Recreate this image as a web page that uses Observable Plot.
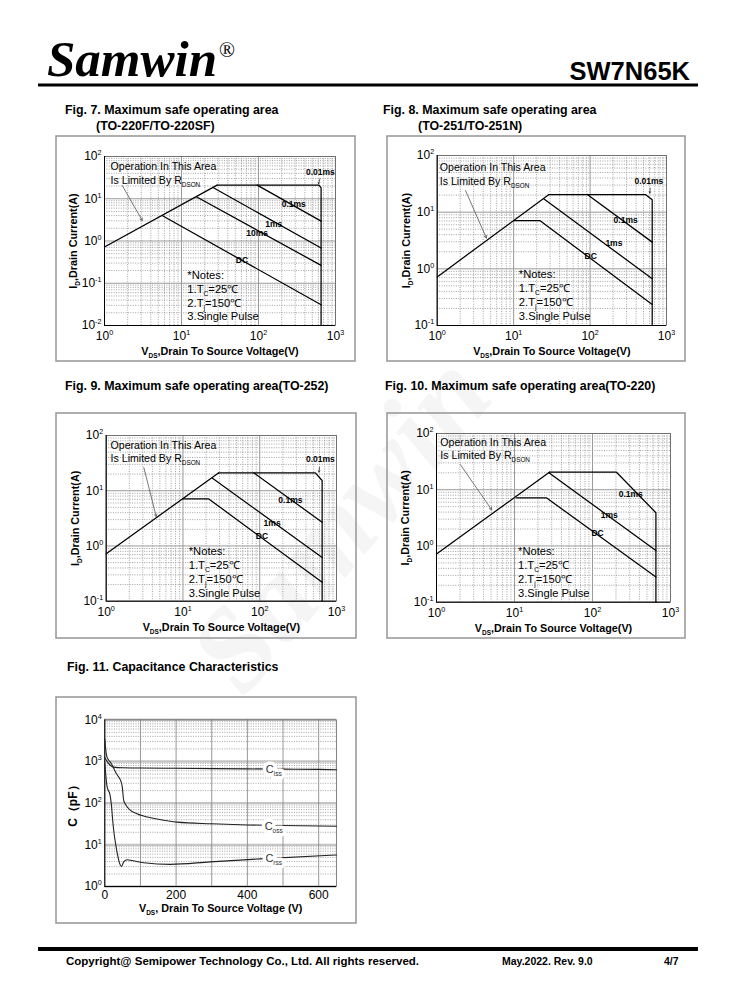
<!DOCTYPE html>
<html><head><meta charset="utf-8">
<script src="https://cdn.jsdelivr.net/npm/d3@7"></script>
<script src="https://cdn.jsdelivr.net/npm/@observablehq/plot@0.6"></script>
<style>
html,body{margin:0;padding:0;background:#fff;}
#page{position:relative;width:738px;height:1000px;overflow:hidden;font-family:"Liberation Sans",Arial,sans-serif;}
#page > svg, #page > .chart{position:absolute;}
.chart svg{overflow:visible;}
</style></head>
<body><div id="page"></div>
<script>
// ---------------- DATA ----------------
const soaXTicks = [1, 10, 100, 1000];
const capXTicks = [0, 200, 400, 600];
const capXGrid = [100, 200, 300, 400, 500, 600];
const capYTicks = [1, 10, 100, 1000, 10000];

// Fig. 7 (TO-220F/TO-220SF)  [V_DS (V), I_D (A)]
const fig7Rdson = [[1, 0.72], [29, 21]];
const fig7P001 = [[29, 21], [610, 21], [650, 18], [650, 0.01]];
const fig7P01 = [[96, 21], [650, 2.95]];
const fig7P1 = [[26, 18.2], [650, 0.68]];
const fig7P10 = [[15.8, 11], [650, 0.265]];
const fig7DC = [[5.6, 4.0], [650, 0.031]];
const fig7Names = ["0.01ms", "0.1ms", "1ms", "10ms", "DC"];

// Fig. 8 (TO-251/TO-251N)
const fig8Rdson = [[1, 0.72], [29, 20.5]];
const fig8P001 = [[29, 20.5], [530, 20.5], [650, 16.5], [650, 0.1]];
const fig8P01 = [[92, 20.5], [650, 2.96]];
const fig8P1 = [[25, 17], [650, 0.67]];
const fig8DC = [[10, 7.1], [22, 7.1], [650, 0.235]];
const fig8Names = ["0.01ms", "0.1ms", "1ms", "DC"];

// Fig. 9 (TO-252)
const fig9Rdson = [[1, 0.72], [29, 21]];
const fig9P001 = [[29, 21], [530, 21], [650, 15.3], [650, 0.1]];
const fig9P01 = [[84, 21], [650, 2.69]];
const fig9P1 = [[24, 17], [650, 0.62]];
const fig9DC = [[10, 7.1], [21.7, 7.1], [650, 0.22]];
const fig9Names = ["0.01ms", "0.1ms", "1ms", "DC"];

// Fig. 10 (TO-220)
const fig10Rdson = [[1, 0.72], [28, 20.5]];
const fig10P01 = [[28, 20.5], [203, 20.5], [650, 3.9], [650, 0.1]];
const fig10P1 = [[27.6, 20], [650, 0.83]];
const fig10DC = [[10.6, 7.2], [25.6, 7.2], [650, 0.28]];
const fig10Names = ["0.1ms", "1ms", "DC"];

const soaNotes = ["*Notes:", "1.T_{C}=25\u2103", "2.T_{j}=150\u2103", "3.Single Pulse"];
const soaOpText = ["Operation In This Area", "Is Limited By R_{DSON}"];

// Fig. 11 Capacitance  (V_DS, pF)
const cissV = [0, 5, 10, 20, 30, 50, 100, 200, 300, 400, 500, 600, 650];
const cissC = [1250, 1050, 900, 760, 720, 705, 695, 685, 675, 665, 655, 645, 635];
const cossV = [0, 2, 5, 10, 16, 22, 30, 36, 42, 46, 49, 53, 60, 72, 90, 109, 150, 203, 300, 400, 500, 650];
const cossC = [3500, 2200, 1400, 1100, 950, 780, 560, 460, 385, 320, 245, 117, 88, 67, 56, 49, 41, 35, 32, 30, 29, 28];
const crssV = [0, 3, 6, 10, 14, 18, 22, 25, 30, 35, 42, 47, 53, 63, 77, 109, 184, 296, 436, 650];
const crssC = [900, 450, 260, 200, 168, 100, 40, 22, 11, 6.2, 3.5, 3.0, 3.9, 4.4, 4.2, 3.7, 3.4, 3.9, 4.6, 5.7];
const capNames = ["C_{iss}", "C_{oss}", "C_{rss}"];

// ---------------- HELPERS ----------------
const page = document.getElementById("page");
const FONT = "'Liberation Sans', Arial, Helvetica, sans-serif";

function decades(lo, hi) {
  const out = [];
  for (let e = Math.round(Math.log10(lo)); e <= Math.round(Math.log10(hi)); e++) out.push(10 ** e);
  return out;
}
function minors(lo, hi) {
  const out = [];
  for (let e = Math.round(Math.log10(lo)); e < Math.round(Math.log10(hi)); e++)
    for (let m = 2; m <= 9; m++) out.push(m * 10 ** e);
  return out;
}
const pow10 = d => `10^{${Math.round(Math.log10(d))}}`;

// convert "_{..}" / "^{..}" markup into tspans
function rich(svg) {
  d3.select(svg).selectAll("text").each(function () {
    const t = this.textContent;
    if (!/[_^]\{/.test(t) || this.querySelector("tspan")) return;
    const fs = parseFloat(getComputedStyle(this).fontSize) || 12;
    const parts = [];
    const re = /([_^])\{([^}]*)\}/g;
    let last = 0, m;
    while ((m = re.exec(t))) {
      if (m.index > last) parts.push({k: "", s: t.slice(last, m.index)});
      parts.push({k: m[1], s: m[2]});
      last = re.lastIndex;
    }
    if (last < t.length) parts.push({k: "", s: t.slice(last)});
    this.textContent = "";
    let shift = 0;
    for (const p of parts) {
      const ts = document.createElementNS("http://www.w3.org/2000/svg", "tspan");
      const want = p.k === "_" ? 0.28 * fs : p.k === "^" ? -0.42 * fs : 0;
      if (want - shift !== 0) ts.setAttribute("dy", (want - shift).toFixed(2));
      shift = want;
      if (p.k) ts.setAttribute("font-size", (0.6 * fs).toFixed(2));
      ts.textContent = p.s;
      this.appendChild(ts);
    }
  });
}

function place(svg, box) {
  const div = document.createElement("div");
  div.className = "chart";
  div.style.left = box.x + "px";
  div.style.top = box.y + "px";
  div.appendChild(svg);
  page.appendChild(div);
  rich(svg);
}

const P = d => d[0], Q = d => d[1];

function soaChart(cfg) {
  const {box, rect, yDomain, curves, names, nameAt, opAt, notesAt, arrow, smallArrow, xLabDy} = cfg;
  const [yl, yh] = yDomain;
  const gridMinor = {stroke: "#8c8c8c", strokeWidth: 0.8, strokeDasharray: "1,1.4"};
  const marks = [
    Plot.ruleX(minors(1, 1000), gridMinor),
    Plot.ruleY(minors(yl, yh), gridMinor),
    Plot.ruleX(decades(1, 1000), {stroke: "#9a9a9a", strokeWidth: 1}),
    Plot.ruleY(decades(yl, yh), {stroke: "#9a9a9a", strokeWidth: 1}),
    Plot.frame({stroke: "#666", strokeWidth: 0.8}),
    Plot.ruleX([1], {stroke: "#000", strokeWidth: 1}),
    Plot.ruleY([yl], {stroke: "#000", strokeWidth: 1}),
    ...curves.map(c => Plot.line(c, {x: P, y: Q, stroke: "#000", strokeWidth: 1.25})),
    Plot.text(names, {x: (d, i) => nameAt[i][0], y: (d, i) => nameAt[i][1], text: d => d,
      fontWeight: "bold", fontSize: 8.5, textAnchor: "middle"}),
    Plot.text(soaOpText, {x: () => opAt[0], y: (d, i) => opAt[1][i], text: d => d,
      textAnchor: "start", fontSize: 10.6}),
    Plot.text(soaNotes, {x: () => notesAt[0], y: (d, i) => notesAt[1][i], text: d => d,
      textAnchor: "start", fontSize: 11.2}),
    Plot.arrow([arrow], {x1: d => d[0], y1: d => d[1], x2: d => d[2], y2: d => d[3],
      stroke: "#555", strokeWidth: 0.8, headLength: 5}),
    Plot.axisX(soaXTicks, {tickFormat: pow10, tickSize: 0, tickPadding: 6, fontSize: 12, label: null}),
    Plot.axisY(decades(yl, yh), {tickFormat: pow10, tickSize: 0, tickPadding: 3, fontSize: 12, label: null}),
    Plot.text(["V_{DS},Drain To Source Voltage(V)"], {frameAnchor: "bottom", dy: xLabDy, text: d => d,
      fontWeight: "bold", fontSize: 10.8, textAnchor: "middle"}),
    Plot.text(["I_{D},Drain Current(A)"], {frameAnchor: "left", dx: -31, rotate: -90, text: d => d,
      fontWeight: "bold", fontSize: 10.8, textAnchor: "middle"})
  ];
  if (smallArrow) marks.push(Plot.arrow([smallArrow], {x1: d => d[0], y1: d => d[1], x2: d => d[2], y2: d => d[3],
      stroke: "#333", strokeWidth: 0.8, headLength: 3}));
  const svg = Plot.plot({
    width: box.w, height: box.h,
    marginLeft: rect.l - box.x, marginRight: box.x + box.w - rect.r,
    marginTop: rect.t - box.y, marginBottom: box.y + box.h - rect.b,
    x: {type: "log", domain: [1, 1000]},
    y: {type: "log", domain: yDomain},
    style: {fontFamily: FONT, fontSize: "12px", background: "transparent", color: "#000", overflow: "visible"},
    marks
  });
  place(svg, box);
}

// ---------------- PAGE FURNITURE ----------------
const ov = d3.select(page).append("svg").attr("width", 738).attr("height", 1000)
  .style("left", "0px").style("top", "0px").attr("font-family", FONT);

// faint watermark
ov.append("text").attr("transform", "translate(370,548) rotate(-50)")
  .attr("text-anchor", "middle").attr("font-family", "'Liberation Serif', 'Times New Roman', serif")
  .attr("font-style", "italic").attr("font-weight", "bold").attr("font-size", 118)
  .attr("fill", "#f5f5f5").text("Samwin");

ov.append("text").attr("x", 47).attr("y", 76)
  .attr("font-family", "'Liberation Serif', 'Times New Roman', serif")
  .attr("font-style", "italic").attr("font-weight", "bold").attr("font-size", 51).text("Samwin");
ov.append("text").attr("x", 219).attr("y", 57)
  .attr("font-family", "'Liberation Serif', 'Times New Roman', serif").attr("font-size", 21).text("\u00AE");
ov.append("text").attr("x", 690).attr("y", 80).attr("text-anchor", "end")
  .attr("font-weight", "bold").attr("font-size", 25.5).text("SW7N65K");
ov.append("rect").attr("x", 38).attr("y", 83.5).attr("width", 660).attr("height", 3).attr("fill", "#000");

const titles = [
  ["Fig. 7. Maximum safe operating area", 65, 114],
  ["(TO-220F/TO-220SF)", 96, 130],
  ["Fig. 8. Maximum safe operating area", 383, 114],
  ["(TO-251/TO-251N)", 418, 130],
  ["Fig. 9. Maximum safe operating area(TO-252)", 65, 390],
  ["Fig. 10. Maximum safe operating area(TO-220)", 385, 390],
  ["Fig. 11. Capacitance Characteristics", 67, 671]
];
for (const [t, x, y] of titles)
  ov.append("text").attr("x", x).attr("y", y).attr("font-weight", "bold").attr("font-size", 12.4).text(t);

ov.append("rect").attr("x", 38).attr("y", 947).attr("width", 660).attr("height", 4).attr("fill", "#000");
ov.append("text").attr("x", 66).attr("y", 965).attr("font-weight", "bold").attr("font-size", 11.5)
  .text("Copyright@ Semipower Technology Co., Ltd. All rights reserved.");
ov.append("text").attr("x", 502).attr("y", 965).attr("font-weight", "bold").attr("font-size", 10.5)
  .text("May.2022. Rev. 9.0");
ov.append("text").attr("x", 664).attr("y", 965).attr("font-weight", "bold").attr("font-size", 10.5).text("4/7");

const boxes = {
  f7: {x: 56, y: 136, w: 299, h: 225},
  f8: {x: 387, y: 136, w: 298, h: 225},
  f9: {x: 56, y: 413, w: 300, h: 225},
  f10: {x: 387, y: 413, w: 298, h: 225},
  f11: {x: 56, y: 697, w: 300, h: 226}
};
for (const b of Object.values(boxes))
  ov.append("rect").attr("x", b.x).attr("y", b.y).attr("width", b.w).attr("height", b.h)
    .attr("fill", "none").attr("stroke", "#9c9c9c").attr("stroke-width", 1.6);

// ---------------- SOA CHARTS ----------------
soaChart({
  box: boxes.f7, rect: {l: 104, r: 335, t: 156, b: 325}, yDomain: [0.01, 100],
  curves: [fig7Rdson, fig7P001, fig7P01, fig7P1, fig7P10, fig7DC],
  names: fig7Names, nameAt: [[636, 42.5], [287, 7.3], [158, 2.55], [96, 1.53], [61, 0.359]],
  opAt: [1.2, [58, 27]], notesAt: [11.9, [0.152, 0.0711, 0.0341, 0.0163]],
  arrow: [1.7, 20.6, 3.09, 3.06], smallArrow: [628, 30, 603, 22.5], xLabDy: 29
});
soaChart({
  box: boxes.f8, rect: {l: 436.7, r: 666, t: 155, b: 325}, yDomain: [0.1, 100],
  curves: [fig8Rdson, fig8P001, fig8P01, fig8P1, fig8DC],
  names: fig8Names, nameAt: [[589, 35.2], [292, 7.1], [205, 2.84], [102, 1.65]],
  opAt: [1.08, [62, 35.2]], notesAt: [11.7, [0.797, 0.451, 0.255, 0.145]],
  arrow: [2.35, 24, 4.4, 3.5], smallArrow: [612, 26.5, 605, 21.7], xLabDy: 29
});
soaChart({
  box: boxes.f9, rect: {l: 105.7, r: 336, t: 435, b: 600.7}, yDomain: [0.1, 100],
  curves: [fig9Rdson, fig9P001, fig9P01, fig9P1, fig9DC],
  names: fig9Names, nameAt: [[617, 37.8], [251, 6.64], [145, 2.58], [107, 1.48]],
  opAt: [1.14, [65.9, 38.8]], notesAt: [11.9, [0.792, 0.442, 0.246, 0.137]],
  arrow: [3.1, 26, 4.48, 3.4], smallArrow: [600, 26.5, 592, 21.7], xLabDy: 30
});
soaChart({
  box: boxes.f10, rect: {l: 436, r: 670, t: 433, b: 601.7}, yDomain: [0.1, 100],
  curves: [fig10Rdson, fig10P01, fig10P1, fig10DC],
  names: fig10Names, nameAt: [[309, 8.45], [164, 3.47], [116, 1.68]],
  opAt: [1.12, [68.3, 40.6]], notesAt: [11.1, [0.795, 0.448, 0.252, 0.142]],
  arrow: [2.02, 28, 5.1, 4.4], smallArrow: null, xLabDy: 30
});

// ---------------- CAPACITANCE CHART ----------------
(function () {
  const box = boxes.f11, rect = {l: 104.3, r: 336, t: 719.3, b: 886};
  const ciss = cissV.map((v, i) => [v, cissC[i]]);
  const coss = cossV.map((v, i) => [v, cossC[i]]);
  const crss = crssV.map((v, i) => [v, crssC[i]]);
  const nameAt = [[474, 643], [474, 28], [474, 4.64]];
  const lab = {x: (d, i) => nameAt[i][0], y: (d, i) => nameAt[i][1], text: d => d, fontSize: 11, textAnchor: "middle"};
  const svg = Plot.plot({
    width: box.w, height: box.h,
    marginLeft: rect.l - box.x, marginRight: box.x + box.w - rect.r,
    marginTop: rect.t - box.y, marginBottom: box.y + box.h - rect.b,
    x: {domain: [0, 650]},
    y: {type: "log", domain: [1, 10000]},
    style: {fontFamily: FONT, fontSize: "12px", background: "transparent", color: "#000", overflow: "visible"},
    marks: [
      Plot.ruleY(minors(1, 10000), {stroke: "#8c8c8c", strokeWidth: 0.8, strokeDasharray: "1,1.4"}),
      Plot.ruleY(decades(1, 10000), {stroke: "#c4c4c4", strokeWidth: 2.4}),
      Plot.ruleX(capXGrid, {stroke: "#8c8c8c", strokeWidth: 0.9}),
      Plot.frame({stroke: "#666", strokeWidth: 0.8}),
      Plot.ruleX([0], {stroke: "#000"}),
      Plot.ruleY([1], {stroke: "#000"}),
      Plot.line(ciss, {x: P, y: Q, stroke: "#222", strokeWidth: 1.1, curve: "monotone-x"}),
      Plot.line(coss, {x: P, y: Q, stroke: "#222", strokeWidth: 1.1, curve: "monotone-x"}),
      Plot.line(crss, {x: P, y: Q, stroke: "#222", strokeWidth: 1.1, curve: "monotone-x"}),
      Plot.text(capNames, {...lab, fill: "white", stroke: "white", strokeWidth: 7}),
      Plot.text(capNames, {...lab, fill: "#333"}),
      Plot.axisX(capXTicks, {tickSize: 0, tickPadding: 4, fontSize: 12, label: null}),
      Plot.axisY(capYTicks, {tickFormat: pow10, tickSize: 0, tickPadding: 3, fontSize: 12, label: null}),
      Plot.text(["V_{DS}, Drain To Source Voltage (V)"], {frameAnchor: "bottom", dy: 25, text: d => d,
        fontWeight: "bold", fontSize: 10.8, textAnchor: "middle"}),
      Plot.text(["C\uFF08pF\uFF09"], {frameAnchor: "left", dx: -32, rotate: -90, text: d => d,
        fontWeight: "bold", fontSize: 12, textAnchor: "middle"})
    ]
  });
  place(svg, box);
})();
</script>
</body></html>
